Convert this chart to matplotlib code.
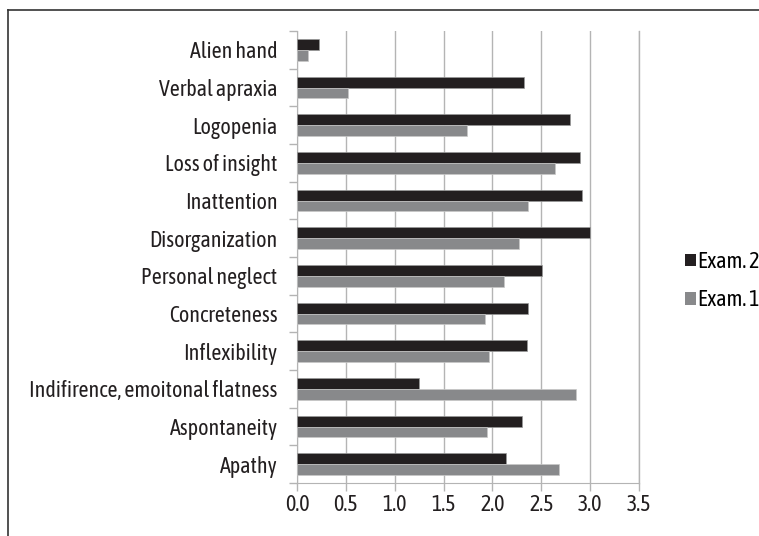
import numpy as np
import matplotlib
matplotlib.use("Agg")
import matplotlib.pyplot as plt
from matplotlib.patches import Patch

plt.rcParams['font.family'] = ['Asap Condensed', 'DejaVu Sans']

sintomas = ["Apathy", "Aspontaneity", "Indifirence, emoitonal flatness",
            "Inflexibility", "Concreteness", "Personal neglect",
            "Disorganization", "Inattention", "Loss of insight",
            "Logopenia", "Verbal apraxia", "Alien hand"]
exam2 = [2.14, 2.30, 1.25, 2.35, 2.36, 2.51, 3.00, 2.92, 2.90, 2.79, 2.32, 0.23]
exam1 = [2.68, 1.94, 2.86, 1.96, 1.92, 2.12, 2.27, 2.36, 2.64, 1.74, 0.52, 0.11]
xticks = [0.0, 0.5, 1.0, 1.5, 2.0, 2.5, 3.0, 3.5]

oscuro = "#231f20"
gris = "#88898b"
linea = "#b4b4b4"
fs = 15.8

fig = plt.figure(figsize=(7.59, 5.36), dpi=100)
# marco exterior (solo arriba e izquierda visibles)
fig.add_artist(plt.Line2D([8/759, 1.0], [1 - 10/536, 1 - 10/536], color="#333333", lw=1.2))
fig.add_artist(plt.Line2D([8/759, 8/759], [0.0, 1 - 10/536], color="#333333", lw=1.2))

ax = fig.add_axes([297/759, 53/536, 342/759, 452/536])
y = np.arange(len(sintomas))
h = 0.29
ax.barh(y + h/2, exam2, height=h, color=oscuro, edgecolor="#9a9a9a", linewidth=0.5, zorder=3)
ax.barh(y - h/2, exam1, height=h, color=gris, edgecolor="#c8c8c8", linewidth=0.5, zorder=3)

ax.set_xlim(0, 3.5)
ax.set_ylim(-0.5, len(sintomas) - 0.5)
ax.set_xticks(xticks)
ax.set_xticklabels(["%.1f" % v for v in xticks], fontsize=fs, color="#231f20")
ax.set_yticks(y)
ax.set_yticklabels(sintomas, fontsize=fs, color="#231f20")
ax.set_yticks(np.arange(-0.5, len(sintomas)), minor=True)
ax.tick_params(axis="y", which="major", length=0, pad=14)
ax.tick_params(axis="y", which="minor", length=6, color=linea, width=1)
ax.tick_params(axis="x", length=6, color=linea, width=1, pad=2)

ax.grid(axis="x", color=linea, lw=1, zorder=0)
ax.axvline(3.5, color=linea, lw=1, zorder=0, clip_on=False)
for s in ["top", "right"]:
    ax.spines[s].set_visible(False)
ax.spines["left"].set_color(linea)
ax.spines["bottom"].set_color(linea)

leyenda = [Patch(facecolor=oscuro, label="Exam. 2"), Patch(facecolor=gris, label="Exam. 1")]
fig.legend(handles=leyenda, loc="center left", bbox_to_anchor=(674/759, 1 - 281/536),
           frameon=False, fontsize=fs, handlelength=0.5, handleheight=0.5,
           handletextpad=0.1, labelspacing=0.75, borderpad=0)

plt.savefig("out.png", dpi=100)
